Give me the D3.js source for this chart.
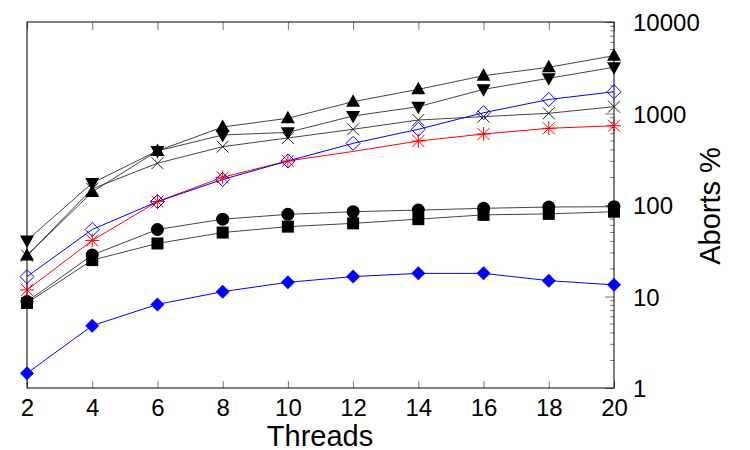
<!DOCTYPE html>
<html>
<head>
<meta charset="utf-8">
<script src="https://cdn.jsdelivr.net/npm/d3@7"></script>
<style>
  html, body { margin: 0; padding: 0; background: #fff; }
  svg { display: block; }
  text { font-family: "Liberation Sans", Arial, sans-serif; fill: #000; }
</style>
</head>
<body>
<svg id="chart" width="750" height="450"></svg>
<script>
// ---- data ----
const threads = [2, 4, 6, 8, 10, 12, 14, 16, 18, 20];
const triUp      = [28, 139, 390, 712, 887, 1346, 1837, 2588, 3200, 4285];
const triDown    = [41, 174, 390, 582, 622, 940, 1187, 1837, 2427, 3200];
const cross      = [28, 150, 286, 434, 540, 672, 849, 925, 1005, 1187];
const asterisk   = [11.8, 41, 109, 201, 303, 385, 500, 597, 689, 735];
const openDiam   = [16.5, 54, 109, 190, 303, 472, 672, 1020, 1422, 1730];
const circle     = [8.8, 28.4, 54, 70, 79, 84.5, 88, 92, 95, 95.8];
const square     = [8.5, 25, 38, 50, 58, 63, 70, 78, 80, 84.5];
const filledDiam = [1.45, 4.8, 8.2, 11.3, 14.3, 16.5, 17.9, 17.9, 14.9, 13.4];
const asteriskNoMarkerAt = [12];
const yTickValues = [1, 10, 100, 1000, 10000];
const xTickValues = threads;
const xLabel = "Threads";
const yLabel = "Aborts %";

const series = [
  { name: "square",     values: square,     line: "#444", marker: "square" },
  { name: "circle",     values: circle,     line: "#444", marker: "circle" },
  { name: "cross",      values: cross,      line: "#444", marker: "cross" },
  { name: "triDown",    values: triDown,    line: "#444", marker: "triDown" },
  { name: "triUp",      values: triUp,      line: "#444", marker: "triUp" },
  { name: "asterisk",   values: asterisk,   line: "#ff0000", marker: "asterisk", skip: asteriskNoMarkerAt },
  { name: "openDiam",   values: openDiam,   line: "#0000ff", marker: "openDiam" },
  { name: "filledDiam", values: filledDiam, line: "#0000ff", marker: "filledDiam" }
];

// ---- layout ----
const L = 27, R = 614, T = 22, B = 388;
const svg = d3.select("#chart");
const x = d3.scaleLinear().domain([2, 20]).range([L, R]);
const y = d3.scaleLog().domain([1, 10000]).range([B, T]);

// ---- axes ----
const tickColor = "#777";
const gx = svg.append("g").attr("transform", `translate(0,${B})`)
  .call(d3.axisBottom(x).tickValues(xTickValues).tickSize(-7).tickPadding(11).tickFormat(d3.format("d")));
gx.select(".domain").remove();
gx.selectAll("line").attr("stroke", tickColor);
gx.selectAll("text").attr("font-size", 24);

const gxt = svg.append("g").attr("transform", `translate(0,${T})`)
  .call(d3.axisTop(x).tickValues(xTickValues).tickSize(-8).tickFormat(""));
gxt.select(".domain").remove();
gxt.selectAll("line").attr("stroke", tickColor);

const gy = svg.append("g").attr("transform", `translate(${R},0)`)
  .call(d3.axisRight(y).tickValues(yTickValues).tickSize(-9).tickPadding(19).tickFormat(d3.format("d")));
gy.select(".domain").remove();
gy.selectAll("line").attr("stroke", tickColor);
gy.selectAll("text").attr("font-size", 24).attr("dy", "0.36em");

// minor ticks
const minor = [];
for (let d = 1; d < 10000; d *= 10) for (let k = 2; k <= 9; k++) minor.push(d * k);
svg.append("g").selectAll("line").data(minor).join("line")
  .attr("x1", R - 4).attr("x2", R).attr("y1", d => y(d)).attr("y2", d => y(d))
  .attr("stroke", tickColor);

// frame
svg.append("rect").attr("x", L).attr("y", T).attr("width", R - L).attr("height", B - T)
  .attr("fill", "none").attr("stroke", "#000").attr("stroke-width", 1);

// labels
svg.append("text").attr("x", 320).attr("y", 446).attr("text-anchor", "middle")
  .attr("font-size", 29).text(xLabel);
svg.append("text").attr("transform", "translate(720,206) rotate(-90)")
  .attr("text-anchor", "middle").attr("font-size", 29).text(yLabel);

// ---- lines ----
const lineGen = d3.line().x((d, i) => x(threads[i])).y(d => y(d));
series.forEach(s => {
  svg.append("path").attr("d", lineGen(s.values)).attr("fill", "none")
    .attr("stroke", s.line).attr("stroke-width", 1);
});

// ---- markers ----
function drawMarker(g, type, cx, cy) {
  const m = g.append("g").attr("transform", `translate(${cx},${cy})`);
  switch (type) {
    case "square":
      m.append("rect").attr("x", -6).attr("y", -6).attr("width", 12).attr("height", 12).attr("fill", "#000"); break;
    case "circle":
      m.append("circle").attr("r", 6.5).attr("fill", "#000"); break;
    case "triUp":
      m.append("path").attr("d", "M0,-7.5L7,5L-7,5Z").attr("fill", "#000"); break;
    case "triDown":
      m.append("path").attr("d", "M0,7.5L7,-5L-7,-5Z").attr("fill", "#000"); break;
    case "cross":
      m.append("path").attr("d", "M-6,-6L6,6M-6,6L6,-6").attr("stroke", "#222").attr("stroke-width", 1).attr("fill", "none"); break;
    case "asterisk":
      m.append("path").attr("d", "M-6,-6L6,6M-6,6L6,-6M-7,0L7,0M0,-7L0,7").attr("stroke", "#ff0000").attr("stroke-width", 1).attr("fill", "none"); break;
    case "openDiam":
      m.append("path").attr("d", "M0,-7L7,0L0,7L-7,0Z").attr("stroke", "#0000ff").attr("stroke-width", 1).attr("fill", "none"); break;
    case "filledDiam":
      m.append("path").attr("d", "M0,-7L7,0L0,7L-7,0Z").attr("fill", "#0000ff"); break;
  }
}
series.forEach(s => {
  const g = svg.append("g");
  s.values.forEach((v, i) => {
    if (s.skip && s.skip.includes(threads[i])) return;
    drawMarker(g, s.marker, x(threads[i]), y(v));
  });
});
</script>
</body>
</html>
